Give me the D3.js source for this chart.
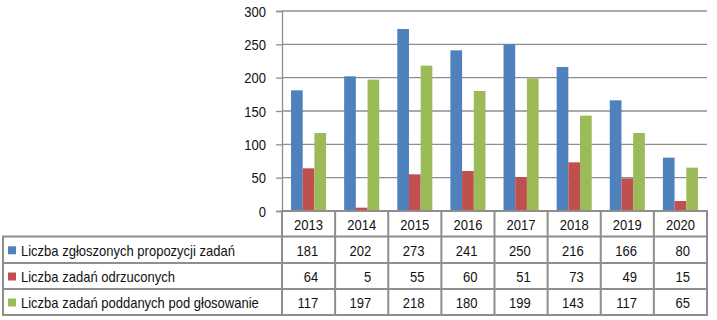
<!DOCTYPE html>
<html>
<head>
<meta charset="utf-8">
<script src="https://cdn.jsdelivr.net/npm/d3@7"></script>
<style>
body { margin: 0; background: #fff; }
text { font-family: "Liberation Sans", Arial, sans-serif; font-size: 14px; fill: #111; }
</style>
</head>
<body>
<div id="chart"></div>
<script>
var years = ["2013", "2014", "2015", "2016", "2017", "2018", "2019", "2020"]
var seriesNames = ["Liczba zgłoszonych propozycji zadań", "Liczba zadań odrzuconych", "Liczba zadań poddanych pod głosowanie"]
var submitted = [181, 202, 273, 241, 250, 216, 166, 80]
var rejected = [64, 5, 55, 60, 51, 73, 49, 15]
var voted = [117, 197, 218, 180, 199, 143, 117, 65]
var yTicks = [0, 50, 100, 150, 200, 250, 300]
var colors = ["#4F81BD", "#C0504D", "#9BBB59"]

var seriesValues = [submitted, rejected, voted]

var width = 717, height = 320
var plot = { left: 282, right: 707, top: 11, bottom: 211 }
var rowTops = [211, 236.5, 263, 289, 315]
var gridColor = "#8e8e8e"
var squeeze = 0.93

var svg = d3.select("#chart")
    .append("svg")
    .attr("width", width)
    .attr("height", height)

// text narrowed a little, like the original
function label(parent, x, y, anchor, str) {
    return parent.append("text")
        .attr("transform", "translate(" + x + "," + y + ") scale(" + squeeze + ",1)")
        .attr("dy", "0.36em")
        .attr("text-anchor", anchor)
        .text(str)
}

var yScale = d3.scaleLinear()
    .domain([0, 300])
    .range([plot.bottom, plot.top])

var colScale = d3.scaleBand()
    .domain(years)
    .range([plot.left, plot.right])

var groupScale = d3.scaleBand()
    .domain(years)
    .range([plot.left, plot.right])
    .paddingInner(0.34)
    .paddingOuter(0.17)

var barScale = d3.scaleBand()
    .domain([0, 1, 2])
    .range([0, groupScale.bandwidth()])

// gridlines
svg.append("g")
    .selectAll("line")
    .data(yTicks.filter(function(d) { return d > 0; }))
    .enter()
    .append("line")
    .attr("x1", plot.left)
    .attr("x2", plot.right)
    .attr("y1", function(d) { return yScale(d); })
    .attr("y2", function(d) { return yScale(d); })
    .attr("stroke", gridColor)
    .attr("stroke-width", 1.3)

// y axis
var yAxis = d3.axisLeft()
    .scale(yScale)
    .tickValues(yTicks)
    .tickSize(6)
    .tickFormat("")

var yAxisG = svg.append("g")
    .attr("transform", "translate(" + plot.left + ",0)")
    .call(yAxis)
yAxisG.select(".domain").attr("stroke", gridColor).attr("stroke-width", 1.3)
yAxisG.selectAll(".tick line").attr("stroke", gridColor).attr("stroke-width", 1.3)
yAxisG.selectAll(".tick").each(function(d) {
    label(d3.select(this), -16, 0, "end", d)
})

// bars
var barData = []
for (var s = 0; s < seriesValues.length; s++) {
    for (var i = 0; i < years.length; i++) {
        barData.push({ series: s, year: years[i], value: seriesValues[s][i] })
    }
}

svg.append("g")
    .selectAll("rect")
    .data(barData)
    .enter()
    .append("rect")
    .attr("x", function(d) { return groupScale(d.year) + barScale(d.series); })
    .attr("y", function(d) { return yScale(d.value); })
    .attr("width", barScale.bandwidth())
    .attr("height", function(d) { return plot.bottom - yScale(d.value); })
    .style("fill", function(d) { return colors[d.series]; })

// data table
var table = svg.append("g")
var tableLeft = 3

function hline(x1, x2, y) {
    table.append("line")
        .attr("x1", x1).attr("x2", x2)
        .attr("y1", y).attr("y2", y)
        .attr("stroke", gridColor)
        .attr("stroke-width", 2)
}
function vline(x, y1, y2) {
    table.append("line")
        .attr("x1", x).attr("x2", x)
        .attr("y1", y1).attr("y2", y2)
        .attr("stroke", gridColor)
        .attr("stroke-width", 2)
}

hline(plot.left - 1, plot.right + 1, rowTops[0])
for (var r = 1; r < rowTops.length; r++) {
    hline(tableLeft - 1, plot.right + 1, rowTops[r])
}
vline(tableLeft, rowTops[1], rowTops[4])
years.forEach(function(y) {
    vline(colScale(y), rowTops[0], rowTops[4])
})
vline(plot.right, rowTops[0], rowTops[4])

// year header
years.forEach(function(y) {
    label(table, colScale(y) + colScale.bandwidth() / 2, (rowTops[0] + rowTops[1]) / 2 + 1, "middle", y)
})

// rows
seriesNames.forEach(function(name, s) {
    var cy = (rowTops[s + 1] + rowTops[s + 2]) / 2 + 1

    table.append("rect")
        .attr("x", 8)
        .attr("y", cy - 4.5)
        .attr("width", 8)
        .attr("height", 8)
        .style("fill", colors[s])

    label(table, 21, cy, "start", name)

    seriesValues[s].forEach(function(v, i) {
        label(table, colScale(years[i]) + colScale.bandwidth() - 17, cy, "end", v)
    })
})
</script>
</body>
</html>
